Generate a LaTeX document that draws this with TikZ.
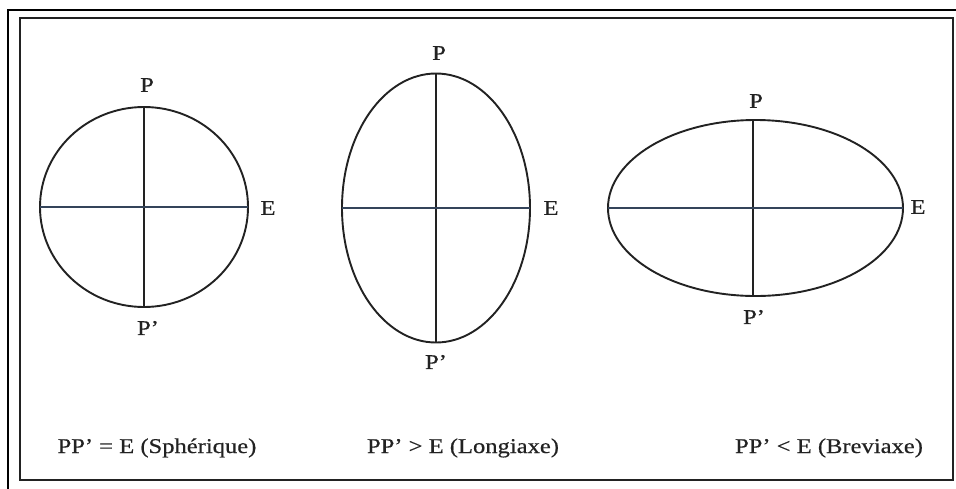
\documentclass[tikz,border=0pt]{standalone}
\usepackage{fontspec}
\setmainfont[FakeStretch=1.17,FakeBold=0.5]{Liberation Serif}
\definecolor{ink}{HTML}{222222}
\definecolor{axisc}{HTML}{34445A}
\begin{document}
\begin{tikzpicture}[x=1pt,y=-1pt,
  shapeline/.style={draw=ink,line width=1.9pt},
  vaxis/.style={draw=ink,line width=1.6pt},
  haxis/.style={draw=axisc,line width=1.6pt},
  lbl/.style={inner sep=0pt,font=\fontsize{21pt}{25pt}\selectfont,text=ink},
  caption/.style={inner sep=0pt,anchor=base,font=\fontsize{21pt}{25pt}\selectfont,text=ink}]
\useasboundingbox (0,0) rectangle (956,488);
\fill[white] (0,0) rectangle (956,488);
% frames
\draw[black,line width=2.2pt] (8,495) -- (8,10) -- (965,10);
\draw[ink,line width=1.5pt] (20,18) rectangle (953,480);

% shape 1: sphere
\coordinate (c1) at (144,207);
\draw[shapeline] (c1) ellipse [x radius=104, y radius=100];
\coordinate (t1) at (144,107);
\coordinate (b1) at (144,307);
\coordinate (l1) at (40,207);
\coordinate (r1) at (248,207);
\draw[vaxis] (t1) -- (b1);
\draw[haxis] (l1) -- (r1);
\node[lbl] (p1) at (147,85) {P};
\node[lbl] (q1) at (148,328) {P’};
\node[lbl] (e1) at (268,208) {E};

% shape 2: longiaxe
\coordinate (c2) at (436,208);
\draw[shapeline] (c2) ellipse [x radius=94, y radius=134.5];
\coordinate (t2) at (436,74);
\coordinate (b2) at (436,343);
\coordinate (l2) at (342,208);
\coordinate (r2) at (530,208);
\draw[vaxis] (t2) -- (b2);
\draw[haxis] (l2) -- (r2);
\node[lbl] (p2) at (439,53) {P};
\node[lbl] (q2) at (436,362) {P’};
\node[lbl] (e2) at (551,208) {E};

% shape 3: breviaxe
\coordinate (c3) at (755.5,208);
\draw[shapeline] (c3) ellipse [x radius=147.5, y radius=88];
\coordinate (t3) at (753,120);
\coordinate (b3) at (753,296);
\coordinate (l3) at (608,208);
\coordinate (r3) at (903,208);
\draw[vaxis] (t3) -- (b3);
\draw[haxis] (l3) -- (r3);
\node[lbl] (p3) at (756,101) {P};
\node[lbl] (q3) at (754,317) {P’};
\node[lbl] (e3) at (918,207) {E};

% captions
\node[caption] (cap1) at (157,453) {PP’ = E (Sphérique)};
\node[caption] (cap2) at (463,453) {PP’ > E (Longiaxe)};
\node[caption] (cap3) at (829,453) {PP’ < E (Breviaxe)};
\end{tikzpicture}
\end{document}
